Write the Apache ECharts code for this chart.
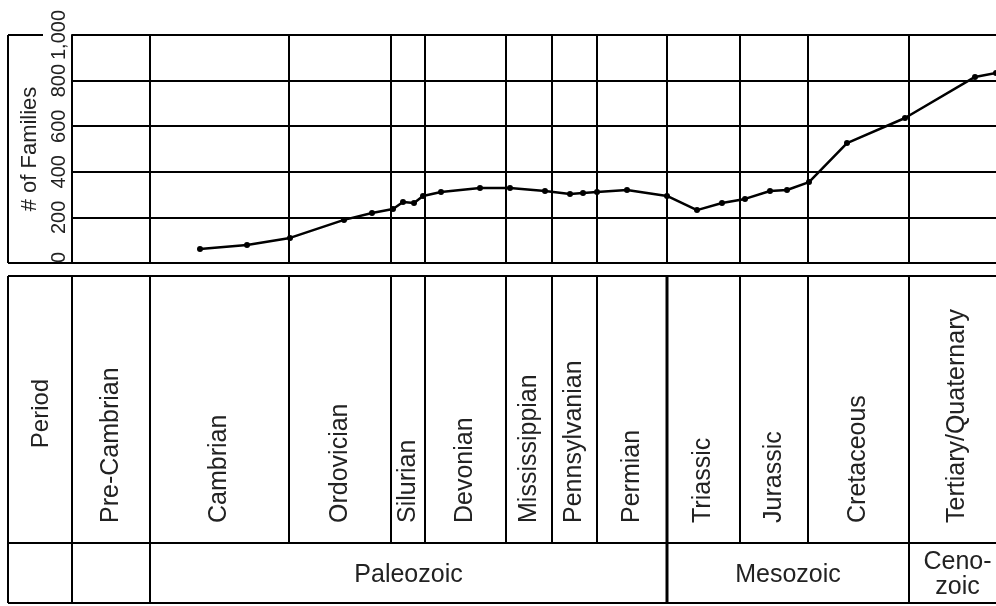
<!DOCTYPE html>
<html>
<head>
<meta charset="utf-8">
<script src="https://cdn.jsdelivr.net/npm/echarts@6/dist/echarts.min.js"></script>
<style>
html,body{margin:0;padding:0;background:#fff;}
#chart{width:996px;height:606px;}
</style>
</head>
<body>
<div id="chart"></div>
<script>
// Timeline position units (left edge of plot = 0); last period runs past the visible edge
const periodBoundaries = [0, 78, 217, 319, 353, 434, 480, 525, 595, 668, 736, 837, 934];
const visibleMax = 924;
const periods = ['Pre-Cambrian','Cambrian','Ordovician','Silurian','Devonian','Mississippian','Pennsylvanian','Permian','Triassic','Jurassic','Cretaceous','Tertiary/Quaternary'];
const eraNames = ['', 'Paleozoic', 'Mesozoic', 'Ceno-\nzoic'];
const eraStartPeriod = [0, 1, 8, 11];
const eraEndPeriod = [1, 8, 11, 12];
const yTicks = [0, 200, 400, 600, 800, 1000];

// # of families
const timePos = [128,175,218,272,300,321,331,342,351,369,408,438,473,498,511,525,555,595,625,650,673,698,715,737,775,833,903,924];
const families = [61,79,110,189,219,237,268,263,294,311,329,329,316,303,307,311,320,294,232,263,281,316,320,355,526,636,816,833];

const FONT = '"Liberation Sans", Arial, Helvetica, sans-serif';
const chart = echarts.init(document.getElementById('chart'), null, {renderer:'canvas'});

chart.setOption({
  animation: false,
  backgroundColor: '#fff',
  grid: {left: 72, right: 0, top: 35, bottom: 343, containLabel: false},
  xAxis: {
    type: 'value', min: 0, max: visibleMax,
    axisLabel: {show: false}, axisTick: {show: false}, splitLine: {show: false},
    axisLine: {show: true, lineStyle: {color: '#000', width: 2}}
  },
  yAxis: {
    type: 'value', min: 0, max: 1000, interval: 200,
    name: '# of Families', nameLocation: 'middle', nameGap: 20, nameRotate: 90,
    nameTextStyle: {fontFamily: FONT, fontSize: 22, color: '#222'},
    axisLine: {show: true, lineStyle: {color: '#000', width: 2}},
    axisTick: {show: false},
    axisLabel: {
      rotate: 90, margin: 3, fontFamily: FONT, fontSize: 20, color: '#222',
      alignMinLabel: 'left',
      formatter: v => yTicks.includes(v) ? v.toLocaleString('en-US') : ''
    },
    splitLine: {show: true, lineStyle: {color: '#000', width: 2}}
  },
  series: [{
    type: 'line',
    data: timePos.map((x, i) => [x, families[i]]),
    symbol: 'circle', symbolSize: 6,
    lineStyle: {color: '#000', width: 2.5},
    itemStyle: {color: '#000'},
    markLine: {
      silent: true, symbol: 'none', label: {show: false},
      lineStyle: {color: '#000', width: 2, type: 'solid'},
      data: periodBoundaries.slice(1, -1).map(v => ({xAxis: v}))
    }
  }]
});

// Build the period / era table below the plot, aligned with the same x scale
const px = v => chart.convertToPixel({xAxisIndex: 0}, v);
const rowTop = 276, rowMid = 543, rowBot = 603, leftEdge = 8, labelBaseY = 523;
const g = [];
const line = (x1, y1, x2, y2, w) => g.push({type: 'line', silent: true,
  shape: {x1, y1, x2, y2}, style: {stroke: '#000', lineWidth: w || 2}});

// frame around y-axis labels
line(leftEdge, 35, leftEdge, 263);
line(leftEdge, 35, 43, 35);
line(leftEdge, 263, 72, 263);

// table borders
const rightEdge = 1000;
line(leftEdge, rowTop, rightEdge, rowTop);
line(leftEdge, rowMid, rightEdge, rowMid);
line(leftEdge, rowBot, rightEdge, rowBot);
line(leftEdge, rowTop, leftEdge, rowBot);
periodBoundaries.forEach((b, i) => {
  const x = px(b);
  line(x, rowTop, x, rowMid, i === 8 ? 3 : 2);
});
eraStartPeriod.forEach((s, i) => {
  const x = px(periodBoundaries[s]);
  line(x, rowMid, x, rowBot, s === 8 ? 3 : 2);
});

// Row titles
g.push({type: 'text', silent: true, x: 41, y: (rowTop + rowMid) / 2 + 4, rotation: Math.PI / 2,
  style: {text: 'Period', font: '24px ' + FONT, fill: '#222', align: 'center', verticalAlign: 'middle'}});

periods.forEach((p, i) => {
  const cx = (px(periodBoundaries[i]) + px(periodBoundaries[i + 1])) / 2;
  g.push({type: 'text', silent: true, x: cx, y: labelBaseY, rotation: Math.PI / 2,
    style: {text: p, font: '25px ' + FONT, fill: '#222', align: 'left', verticalAlign: 'middle'}});
});

eraNames.forEach((e, i) => {
  if (!e) return;
  const cx = (px(periodBoundaries[eraStartPeriod[i]]) + px(periodBoundaries[eraEndPeriod[i]])) / 2;
  g.push({type: 'text', silent: true, x: cx, y: (rowMid + rowBot) / 2 + 2,
    style: {text: e, font: '25px ' + FONT, fill: '#222', align: 'center', verticalAlign: 'middle', lineHeight: 25}});
});

chart.setOption({graphic: {elements: g}});
</script>
</body>
</html>
